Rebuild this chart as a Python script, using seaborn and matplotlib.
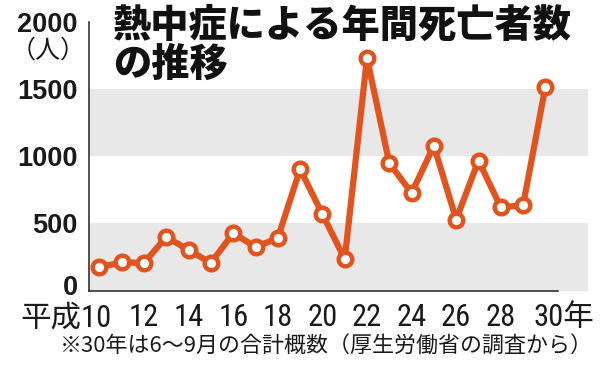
import matplotlib
matplotlib.use("Agg")
import matplotlib.pyplot as plt
import matplotlib.transforms as mtransforms
from matplotlib import font_manager
import seaborn as sns
import pandas as pd

# 平成10年〜30年の熱中症による死亡者数
years = list(range(10, 31))
deaths = [176, 210, 207, 400, 303, 206, 429, 325, 392, 904,
          569, 236, 1731, 948, 727, 1077, 529, 968, 621, 635, 1518]
label_years = list(range(10, 31, 2))
y_ticks = [0, 500, 1000, 1500, 2000]
bands = [(0, 500), (1000, 1500)]

title = "熱中症による年間死亡者数\nの推移"
unit = "（人）"
note = "※30年は6〜9月の合計概数（厚生労働省の調査から）"

line_color = "#e2541e"
band_color = "#e8e8e8"


def has_font(name):
    try:
        font_manager.findfont(font_manager.FontProperties(family=name),
                              fallback_to_default=False)
        return True
    except ValueError:
        return False


narrow = None
for name in ["Liberation Sans Narrow", "Roboto Condensed", "Open Sans Condensed"]:
    if has_font(name):
        narrow = name
        break

sns.set_style("white")
plt.rcParams["font.family"] = ["Liberation Sans", "Noto Sans CJK JP", "DejaVu Sans"]

df = pd.DataFrame({"year": years, "deaths": deaths})

fig = plt.figure(figsize=(6.01, 3.66), dpi=100)
ax = fig.add_axes([0.148, 0.2057, 0.830, 0.7347])

for lo, hi in bands:
    ax.axhspan(lo, hi, color=band_color, lw=0, zorder=0)

sns.lineplot(data=df, x="year", y="deaths", ax=ax, color=line_color, lw=4.5,
             marker="o", markersize=9.8, markeredgewidth=3.2,
             markerfacecolor="white", markeredgecolor=line_color, zorder=3)

ax.set_xlim(9.53, 31.9)
ax.set_ylim(0, 2000)
ax.set_xlabel("")
ax.set_ylabel("")

for s in ["top", "right"]:
    ax.spines[s].set_visible(False)
for s in ["left", "bottom"]:
    ax.spines[s].set_color("#222222")
    ax.spines[s].set_linewidth(1.1)
ax.spines["bottom"].set_bounds(9.53, 30.55)

# y axis: bold labels, no ticks except the top one
ax.set_yticks(y_ticks)
ax.set_yticklabels([str(v) for v in y_ticks], fontsize=19.5, fontweight="bold",
                   family=["Liberation Sans", "DejaVu Sans"], color="#1a1a1a")
ax.tick_params(axis="y", which="major", length=0, pad=8)
ax.set_yticks([2000], minor=True)
ax.tick_params(axis="y", which="minor", direction="in", length=7, width=1.1,
               color="#222222")
# the "0" sits a little above the axis line
zero = ax.get_yticklabels()[0]
zero.set_transform(zero.get_transform() +
                   mtransforms.ScaledTranslation(0, 4 / 72, fig.dpi_scale_trans))

# x axis: labels under the even years, small ticks between points
if narrow is not None:
    x_family = [narrow, "Noto Sans CJK JP"]
    x_size = 22
else:
    x_family = ["Liberation Sans", "Noto Sans CJK JP"]
    x_size = 18.5
ax.set_xticks(label_years)
xlabels = [str(y) for y in label_years]
xlabels[0] = "平成" + xlabels[0]
xlabels[-1] = xlabels[-1] + "年"
ax.set_xticklabels(xlabels, fontsize=x_size, family=x_family, color="#1a1a1a")
ax.tick_params(axis="x", which="major", length=0, pad=9)
ax.set_xticks([y + 0.55 for y in years], minor=True)
ax.tick_params(axis="x", which="minor", direction="in", length=4, width=1.0,
               color="#222222")

tl = ax.get_xticklabels()
tl[0].set_ha("right")
tl[0].set_transform(tl[0].get_transform() +
                    mtransforms.ScaledTranslation(9 / 72, 0, fig.dpi_scale_trans))
tl[-1].set_ha("left")
tl[-1].set_transform(tl[-1].get_transform() +
                     mtransforms.ScaledTranslation(-8.5 / 72, 0, fig.dpi_scale_trans))

fig.text(0.080, 1 - 51 / 366, unit, fontsize=18, ha="center", va="center",
         family=["Noto Sans CJK JP"], color="#1a1a1a")
fig.text(0.188, 0.982, title, fontsize=27.5, fontweight="heavy", ha="left", va="top",
         family=["Noto Sans CJK JP"], color="#111111", linespacing=1.05)
fig.text(0.1, 1 - 347 / 366, note, fontsize=15.8, ha="left", va="center",
         family=["Noto Sans CJK JP"], color="#1a1a1a")

fig.savefig("out.png", dpi=100, facecolor="white")
